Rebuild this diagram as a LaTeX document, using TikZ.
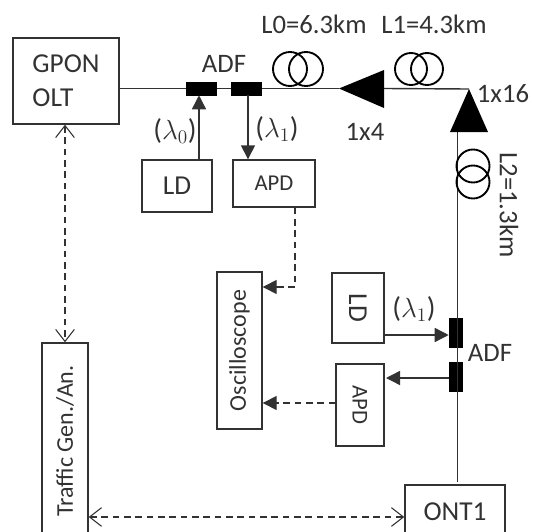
\documentclass[tikz,border=0pt]{standalone}
\usepackage{fontspec}
\setmainfont{Carlito}
\usetikzlibrary{arrows.meta}
\tikzset{every picture/.style={line width=1.05pt}}
\definecolor{inkgray}{RGB}{50,50,50}
\tikzset{
	boxnode/.style={draw=inkgray, inner sep=0pt, text=inkgray, font=\fontsize{20.5}{25.5}\selectfont},
	smallbox/.style={boxnode, font=\fontsize{17}{20}\selectfont},
	tallbox/.style={boxnode, font=\fontsize{18}{20}\selectfont},
	adfnode/.style={fill=black, draw=black, line width=0.4pt, inner sep=0pt},
	labeltext/.style={text=inkgray, inner sep=0pt, font=\fontsize{20}{23}\selectfont},
	lambdatext/.style={text=inkgray, inner sep=0pt, font=\fontsize{21.5}{23}\selectfont},
	fibercoil/.style={draw=black, line width=1.4pt},
	fiberline/.style={draw=inkgray},
	solidhead/.style={draw=inkgray, -{Triangle[length=10.5pt,width=10.5pt]}},
	dashline/.style={draw=inkgray, dash pattern=on 5pt off 3.5pt},
	openheads/.style={{Straight Barb[length=9pt,width=14pt,line width=0.8pt]}-{Straight Barb[length=9pt,width=14pt,line width=0.8pt]}}
}

\begin{document}
\begin{tikzpicture}[x=0.75pt,y=-0.75pt]
	\useasboundingbox (0,0) rectangle (533,532);

	%Boxes
	\node [boxnode, minimum width=79.5pt, minimum height=64.5pt, align=left] (gpon) at (66,81) {GPON\\OLT};
	\node [boxnode, minimum width=52.5pt, minimum height=39pt] (ldtop) at (177,186) {LD};
	\node [smallbox, minimum width=61.5pt, minimum height=35.25pt] (apdtop) at (274,183.5) {APD};
	\node [tallbox, minimum width=33.75pt, minimum height=117.75pt] (osc) at (239.5,350.5) {\rotatebox{90}{Oscilloscope}};
	\node [boxnode, minimum width=39pt, minimum height=52.5pt] (ldright) at (358,308) {\rotatebox{-90}{LD}};
	\node [smallbox, minimum width=36pt, minimum height=61.5pt] (apdright) at (360,405) {\rotatebox{-90}{APD}};
	\node [tallbox, minimum width=34.5pt, minimum height=147pt] (traffic) at (65,441) {\rotatebox{90}{Traffic Gen./An.}};
	\node [boxnode, minimum width=75pt, minimum height=40.5pt] (ont) at (455,512) {ONT1};

	%Add/drop filters
	\node [adfnode, minimum width=22.5pt, minimum height=9.75pt] (adfa) at (201.5,88.5) {};
	\node [adfnode, minimum width=22.5pt, minimum height=9.75pt] (adfb) at (246.5,88.5) {};
	\node [adfnode, minimum width=9.75pt, minimum height=22pt] (adfc) at (455.5,332.5) {};
	\node [adfnode, minimum width=9.75pt, minimum height=22pt] (adfd) at (455.5,377) {};

	%Splitters
	\coordinate (splitatip) at (339,88.5);
	\coordinate (splitabase) at (384,88.5);
	\coordinate (splitbtip) at (469,89);
	\coordinate (splitbbase) at (457.5,132);
	\coordinate (ontin) at (457.5,482);
	\fill [black] (splitatip) -- (384,70) -- (384,108) -- cycle;
	\fill [black] (splitbtip) -- (450,132) -- (488,132) -- cycle;

	%Straight Lines
	\draw [fiberline] (gpon.east |- adfa) -- (adfa);
	\draw [fiberline] (adfa) -- (adfb);
	\draw [fiberline] (adfb) -- (splitatip);
	\draw [fiberline] (splitabase) -- (splitbtip);
	\draw [fiberline] (splitbbase) -- (ontin);

	%Fiber coils
	\draw [fibercoil] (290,69) circle [radius=17];
	\draw [fibercoil] (306,69) circle [radius=17];
	\draw [fibercoil] (411,69) circle [radius=16];
	\draw [fibercoil] (427,69) circle [radius=16];
	\draw [fibercoil] (473,166) circle [radius=16.5];
	\draw [fibercoil] (473,182) circle [radius=16.5];

	%Arrows
	\draw [solidhead] (ldtop.north -| 199,0) -- (adfa.south -| 199,0);
	\draw [solidhead] (adfb.south -| 248,0) -- (apdtop.north -| 248,0);
	\draw [solidhead] (ldright.east |- 0,335) -- (adfc.west |- 0,335);
	\draw [solidhead] (adfd.west |- 0,378) -- (386,378);

	%Dashed Lines
	\draw [dashline] (apdtop.south -| 295,0) -- (295,287) -- (277,287);
	\draw [solidhead] (277,287) -- (osc.east |- 0,287);
	\draw [dashline] (apdright.west |- 0,403) -- (277,403);
	\draw [solidhead] (277,403) -- (osc.east |- 0,403);
	\draw [dashline, openheads] (gpon.south -| traffic.north) -- (traffic.north);
	\draw [dashline, openheads] (traffic.east |- 0,517) -- (ont.west |- 0,517);

	% Text Node
	\node [labeltext] (adftoplabel) at (224,64) {ADF};
	\node [labeltext] (adfrightlabel) at (490,353) {ADF};
	\node [labeltext] (lzero) at (314,24) {L0=6.3km};
	\node [labeltext] (lone) at (434,24) {L1=4.3km};
	\node [labeltext, rotate=-90] (ltwo) at (509,205) {L2=1.3km};
	\node [labeltext] (splitalabel) at (365,132) {1x4};
	\node [labeltext] (splitblabel) at (503,94) {1x16};
	\node [lambdatext] (lambdazero) at (175,131) {($\lambda_{0}$)};
	\node [lambdatext] (lambdaone) at (277,129) {($\lambda_{1}$)};
	\node [lambdatext] (lambdatwo) at (414,309) {($\lambda_{1}$)};

\end{tikzpicture}
\end{document}
